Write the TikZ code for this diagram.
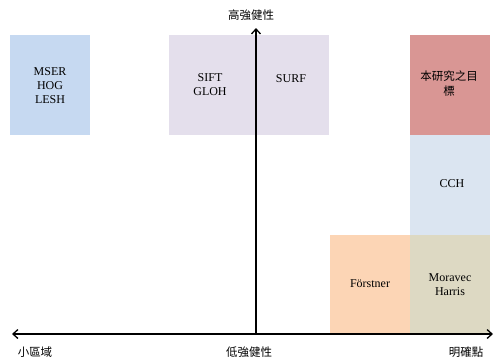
\documentclass[tikz,border=0pt]{standalone}
\usepackage{fontspec}
\setmainfont{Liberation Serif}
\newfontfamily\cjk{Noto Sans CJK TC}
\usetikzlibrary{arrows.meta}
\definecolor{cblue}{HTML}{C6D9F1}
\definecolor{clav}{HTML}{E4DFEC}
\definecolor{cred}{HTML}{D99694}
\definecolor{clblue}{HTML}{DBE5F1}
\definecolor{corange}{HTML}{FCD5B5}
\definecolor{ctan}{HTML}{DDD9C3}
\tikzset{
  box/.style={draw=none, inner sep=0pt, minimum width=80pt, minimum height=100pt, anchor=north west},
  lbl/.style={font=\fontsize{12}{14}\selectfont, align=center, inner sep=0pt},
  cjklbl/.style={font=\cjk\fontsize{11.5}{15}\selectfont, align=center, inner sep=0pt},
  axis/.style={line width=1.6pt, -{Straight Barb[length=5pt,width=9pt,line width=1.3pt]}}
}
\begin{document}
\begin{tikzpicture}[x=1pt,y=-1pt]
\useasboundingbox (0,0) rectangle (496,360);
% boxes
\node[box, fill=cblue] (mser) at (10,35) {};
\node[box, fill=clav, minimum width=160pt] (sift) at (169,35) {};
\node[box, fill=cred] (goal) at (410,35) {};
\node[box, fill=clblue] (cch) at (410,135) {};
\node[box, fill=corange, minimum height=99pt] (forst) at (330,235) {};
\node[box, fill=ctan, minimum height=99pt] (mor) at (410,235) {};
% texts
\node[lbl] (tmser) at (50,86) {MSER\\HOG\\LESH};
\node[lbl] (tsift) at (210,85) {SIFT\\GLOH};
\node[lbl, anchor=base] (tsurf) at (291,82) {SURF};
\node[cjklbl] (tgoal) at (449,84) {本研究之目\\標};
\node[lbl] (tcch) at (452,184) {CCH};
\node[lbl] (tforst) at (370,284) {Förstner};
\node[lbl] (tmor) at (450,285) {Moravec\\Harris};
% axes
\coordinate (o) at (256,334);
\coordinate (left) at (12,334);
\coordinate (right) at (493,334);
\coordinate (top) at (256,28);
\draw[axis] (o) -- (left);
\draw[axis] (o) -- (right);
\draw[axis] (o) -- (top);
% axis labels
\node[cjklbl] (ltop) at (251,15) {高強健性};
\node[cjklbl] (lbot) at (249,352) {低強健性};
\node[cjklbl] (lleft) at (35,352) {小區域};
\node[cjklbl] (lright) at (466,352) {明確點};
\end{tikzpicture}
\end{document}
